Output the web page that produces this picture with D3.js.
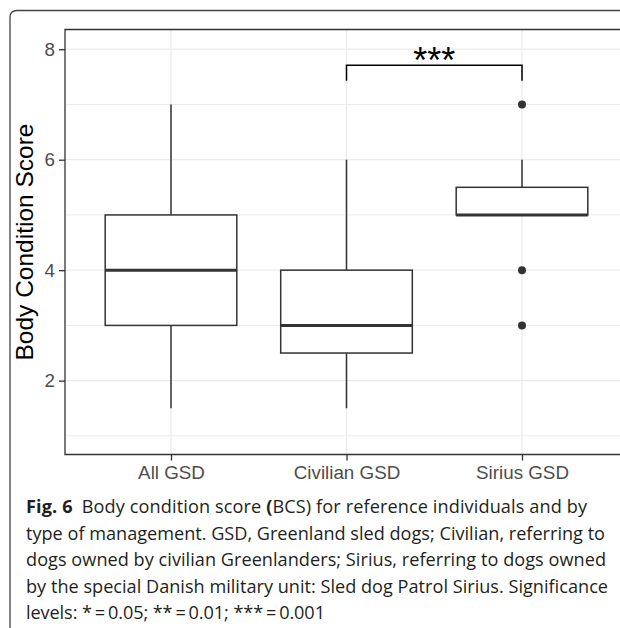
<!DOCTYPE html>
<html>
<head>
<meta charset="utf-8">
<script src="https://cdn.jsdelivr.net/npm/d3@7"></script>
<style>
  html, body { margin: 0; padding: 0; background: #fff; }
  svg { display: block; }
</style>
</head>
<body>
<svg id="chart" width="620" height="628"></svg>
<script>
// ---- data ----
const categories = ["All GSD", "Civilian GSD", "Sirius GSD"];
const whiskerLow  = [1.5, 1.5, 5];
const q1          = [3,   2.5, 5];
const median      = [4,   3,   5];
const q3          = [5,   4,   5.5];
const whiskerHigh = [7,   6,   6];
const outliers    = [[], [], [7, 4, 3]];
const yTicks      = [2, 4, 6, 8];
const yMinorTicks = [1, 3, 5, 7];
const yTitle      = "Body Condition Score";
const bracketPair = ["Civilian GSD", "Sirius GSD"];
const bracketLevel = [7.71, 7.43];   // bar level, tip level
const bracketLabel = "***";
const captionLines = [
  [["Fig. 6", true], ["\u2002Body condition score ", false], ["(", true], ["BCS) for reference individuals and by", false]],
  [["type of management. GSD, Greenland sled dogs; Civilian, referring to", false]],
  [["dogs owned by civilian Greenlanders; Sirius, referring to dogs owned", false]],
  [["by the special Danish military unit: Sled dog Patrol Sirius. Significance", false]],
  [["levels: *\u2009=\u20090.05; **\u2009=\u20090.01; ***\u2009=\u20090.001", false]]
];

// ---- layout ----
const svg = d3.select("#chart");
const W = 620, H = 628;
const panelLeft = 65, panelTop = 29.5, panelBottom = 454.5;

const x = d3.scalePoint().domain(categories).range([171, 522]);
const step = x.step();
const panelRight = x(categories[categories.length - 1]) + 0.6 * step;
const y = d3.scaleLinear().domain([0.663, 8.357]).range([panelBottom, panelTop]);

// outer frame with rounded top-left corner
const fr = 7, fx = 10, fy = 10.5;
svg.append("path")
  .attr("d", `M${fx},${H + 2} L${fx},${fy + fr} Q${fx},${fy} ${fx + fr},${fy} L${W + 2},${fy}`)
  .attr("fill", "none").attr("stroke", "#444").attr("stroke-width", 1.3);

const g = svg.append("g");
svg.append("defs").append("clipPath").attr("id", "pclip")
  .append("rect").attr("x", panelLeft).attr("y", panelTop).attr("width", panelRight - panelLeft).attr("height", panelBottom - panelTop);
const pg = g.append("g").attr("clip-path", "url(#pclip)");

// gridlines
pg.selectAll("line.minor").data(yMinorTicks).join("line")
  .attr("x1", panelLeft).attr("x2", panelRight)
  .attr("y1", d => y(d)).attr("y2", d => y(d))
  .attr("stroke", "#ebebeb").attr("stroke-width", 1);
pg.selectAll("line.major").data(yTicks).join("line")
  .attr("x1", panelLeft).attr("x2", panelRight)
  .attr("y1", d => y(d)).attr("y2", d => y(d))
  .attr("stroke", "#ebebeb").attr("stroke-width", 1.3);
pg.selectAll("line.vmajor").data(categories).join("line")
  .attr("x1", d => x(d)).attr("x2", d => x(d))
  .attr("y1", panelTop).attr("y2", panelBottom)
  .attr("stroke", "#ebebeb").attr("stroke-width", 1.3);

// boxplots
const boxW = 0.75 * step;
const dark = "#333333";
categories.forEach((c, i) => {
  const cx = x(c);
  pg.append("line").attr("x1", cx).attr("x2", cx).attr("y1", y(q3[i])).attr("y2", y(whiskerHigh[i]))
    .attr("stroke", dark).attr("stroke-width", 1.5);
  pg.append("line").attr("x1", cx).attr("x2", cx).attr("y1", y(q1[i])).attr("y2", y(whiskerLow[i]))
    .attr("stroke", dark).attr("stroke-width", 1.5);
  pg.append("rect").attr("x", cx - boxW / 2).attr("y", y(q3[i]))
    .attr("width", boxW).attr("height", y(q1[i]) - y(q3[i]))
    .attr("fill", "#fff").attr("stroke", dark).attr("stroke-width", 1.5);
  pg.append("line").attr("x1", cx - boxW / 2).attr("x2", cx + boxW / 2)
    .attr("y1", y(median[i])).attr("y2", y(median[i]))
    .attr("stroke", dark).attr("stroke-width", 3);
  pg.selectAll(null).data(outliers[i]).join("circle")
    .attr("cx", cx).attr("cy", d => y(d)).attr("r", 4).attr("fill", dark);
});

// significance bracket
const bx1 = x(bracketPair[0]), bx2 = x(bracketPair[1]);
g.append("path")
  .attr("d", `M${bx1},${y(bracketLevel[1])} L${bx1},${y(bracketLevel[0])} L${bx2},${y(bracketLevel[0])} L${bx2},${y(bracketLevel[1])}`)
  .attr("fill", "none").attr("stroke", "#000").attr("stroke-width", 1.5);
g.append("text").attr("x", (bx1 + bx2) / 2).attr("y", y(bracketLevel[0]) + 8)
  .attr("text-anchor", "middle").attr("font-family", "Liberation Sans, Arial, sans-serif")
  .attr("font-size", 36).attr("fill", "#000").text(bracketLabel);

// panel border (top, left, bottom; right is outside the picture)
g.append("path")
  .attr("d", `M${panelRight},${panelTop} L${panelLeft},${panelTop} L${panelLeft},${panelBottom} L${panelRight},${panelBottom}`)
  .attr("fill", "none").attr("stroke", dark).attr("stroke-width", 1.3);

// y axis
const yAxis = d3.axisLeft(y).tickValues(yTicks).tickSize(6).tickPadding(4).tickFormat(d3.format("d"));
const ya = g.append("g").attr("transform", `translate(${panelLeft},0)`).call(yAxis);
ya.select(".domain").remove();
ya.selectAll(".tick line").attr("stroke", dark).attr("stroke-width", 1.3);
ya.selectAll(".tick text").attr("font-family", "Liberation Sans, Arial, sans-serif")
  .attr("font-size", 18.8).attr("fill", "#4d4d4d");

// x axis
const xAxis = d3.axisBottom(x).tickSize(6).tickPadding(5);
const xa = g.append("g").attr("transform", `translate(0,${panelBottom})`).call(xAxis);
xa.select(".domain").remove();
xa.selectAll(".tick line").attr("stroke", dark).attr("stroke-width", 1.3);
xa.selectAll(".tick text").attr("font-family", "Liberation Sans, Arial, sans-serif")
  .attr("font-size", 18.8).attr("fill", "#4d4d4d");

// y title
g.append("text")
  .attr("transform", `translate(33,${(panelTop + panelBottom) / 2}) rotate(-90)`)
  .attr("text-anchor", "middle").attr("font-family", "Liberation Sans, Arial, sans-serif")
  .attr("font-size", 24.5).attr("fill", "#000").text(yTitle);

// caption
const capX = 26;
const capBase = [513, 539.5, 566, 592.5, 619];
const capEnds = [587, 605, 606, 608, 325];
const capFont = "Open Sans, Noto Sans, sans-serif";
const texts = captionLines.map((parts, li) => {
  const t = svg.append("text").attr("x", capX).attr("y", capBase[li])
    .attr("font-family", capFont).attr("font-size", 18).attr("fill", "#231f20");
  parts.forEach(([s, b]) => t.append("tspan").attr("font-weight", b ? 700 : 400).text(s));
  return t;
});
const w2 = texts[1].node().getComputedTextLength();
const fs = 18 * (capEnds[1] - capX) / w2;
texts.forEach((t, li) => {
  t.attr("font-size", fs);
  t.attr("textLength", capEnds[li] - capX).attr("lengthAdjust", "spacing");
});
</script>
</body>
</html>
